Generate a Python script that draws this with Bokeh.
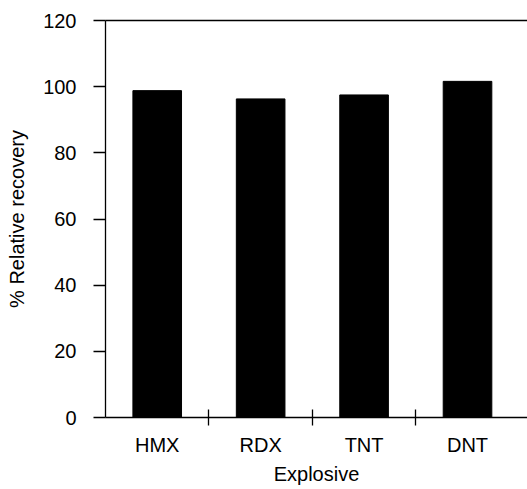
from bokeh.plotting import figure
from bokeh.models import FixedTicker, LinearAxis, Range1d
from bokeh.embed import file_html
from bokeh.resources import INLINE

explosives = ["HMX", "RDX", "TNT", "DNT"]
recovery = [98.8, 96.3, 97.5, 101.6]
y_ticks = [0, 20, 40, 60, 80, 100, 120]

positions = [i + 0.5 for i in range(len(explosives))]
boundaries = [i for i in range(1, len(explosives))]

FONT = "Liberation Sans"
FS = "20px"

p = figure(width=527, height=489, output_backend="svg", toolbar_location=None,
           x_range=Range1d(0, len(explosives) + 0.08), y_range=Range1d(0, 120),
           min_border_left=105, min_border_right=0, min_border_top=20,
           min_border_bottom=72)

p.vbar(x=positions, top=recovery, width=0.47, fill_color="black",
       line_color="black")

p.grid.visible = False
p.outline_line_color = None

# x axis: labels at category centres, ticks at category boundaries
xa = p.xaxis[0]
xa.ticker = FixedTicker(ticks=positions, minor_ticks=boundaries)
xa.major_label_overrides = {pos: name for pos, name in zip(positions, explosives)}
xa.major_tick_in = 0
xa.major_tick_out = 0
xa.minor_tick_in = 8
xa.minor_tick_out = 8
xa.minor_tick_line_color = "black"
xa.minor_tick_line_width = 1.3
xa.axis_line_width = 1.6
xa.axis_line_color = "black"
xa.axis_label = "Explosive"
xa.axis_label_text_font = FONT
xa.axis_label_text_font_style = "normal"
xa.axis_label_text_font_size = FS
xa.axis_label_text_color = "black"
xa.axis_label_standoff = 4
xa.major_label_text_font = FONT
xa.major_label_text_font_size = FS
xa.major_label_text_color = "black"
xa.major_label_standoff = 8

ya = p.yaxis[0]
ya.ticker = FixedTicker(ticks=y_ticks, minor_ticks=[])
ya.major_tick_in = 0
ya.major_tick_out = 12
ya.major_tick_line_width = 1.5
ya.major_tick_line_color = "black"
ya.axis_line_width = 1.3
ya.axis_line_color = "black"
ya.axis_label = "% Relative recovery"
ya.axis_label_text_font = FONT
ya.axis_label_text_font_style = "normal"
ya.axis_label_text_font_size = FS
ya.axis_label_text_color = "black"
ya.axis_label_standoff = 12
ya.major_label_text_font = FONT
ya.major_label_text_font_size = FS
ya.major_label_text_color = "black"
ya.major_label_standoff = 17

top = LinearAxis(ticker=FixedTicker(ticks=[], minor_ticks=[]),
                 major_label_text_font_size="0px", major_tick_out=0,
                 major_tick_in=0, minor_tick_out=0, minor_tick_in=0,
                 major_label_standoff=0, axis_line_color="black",
                 axis_line_width=1.3)
p.add_layout(top, "above")

open("out.html", "w").write(file_html(p, INLINE))
